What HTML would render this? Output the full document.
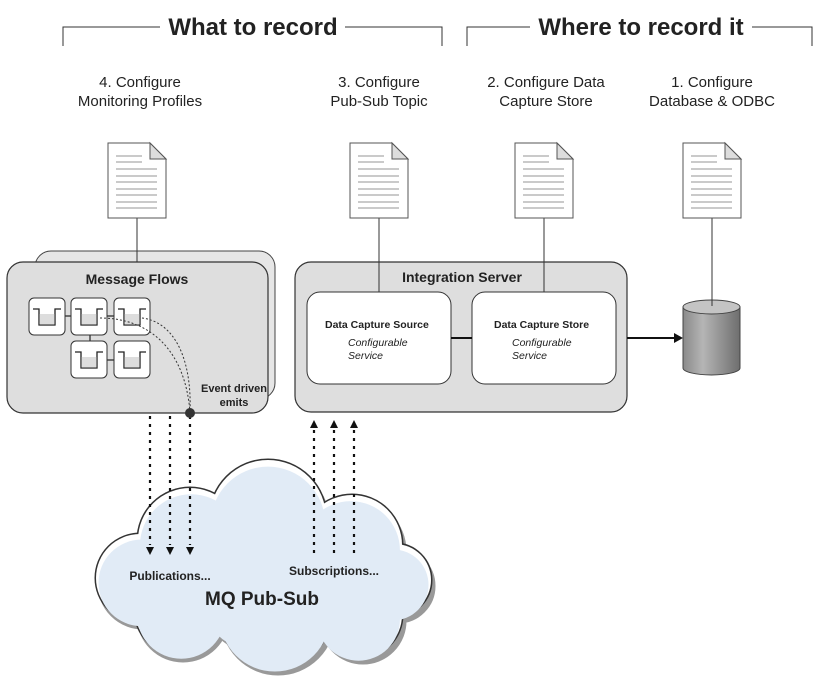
<!DOCTYPE html>
<html><head><meta charset="utf-8"><style>
html,body{margin:0;padding:0;background:#fff}
svg{display:block;font-family:"Liberation Sans",Arial,sans-serif}
</style></head><body>
<svg width="821" height="679" viewBox="0 0 821 679" xmlns="http://www.w3.org/2000/svg">
<defs>
<linearGradient id="cyl" x1="0" x2="1"><stop offset="0" stop-color="#8a8a8a"/><stop offset="0.35" stop-color="#b5b5b5"/><stop offset="1" stop-color="#6e6e6e"/></linearGradient>
<g id="doc">
<path d="M0,0 H42 L58,16 V75 H0 Z" fill="#fff" stroke="#555" stroke-width="1"/>
<path d="M42,0 V16 H58 Z" fill="#ddd" stroke="#555" stroke-width="1"/>
<g stroke="#aaa" stroke-width="1.2">
<line x1="8" y1="13" x2="34" y2="13"/><line x1="8" y1="19" x2="34" y2="19"/>
<line x1="8" y1="26" x2="49" y2="26"/><line x1="8" y1="33" x2="49" y2="33"/><line x1="8" y1="39" x2="49" y2="39"/><line x1="8" y1="46" x2="49" y2="46"/><line x1="8" y1="52" x2="49" y2="52"/><line x1="8" y1="59" x2="49" y2="59"/><line x1="8" y1="65" x2="49" y2="65"/>
</g></g>
<g id="mini">
<rect x="0" y="0" width="36" height="37" rx="5" fill="#fff" stroke="#333" stroke-width="1"/>
<path d="M4,11 H10 V27 H26 V11 H32" fill="none" stroke="#222" stroke-width="1.3"/>
<rect x="10.5" y="16" width="15" height="10.5" fill="#ddd"/>
</g>
<g id="cl">
<circle cx="190" cy="540" r="52"/><circle cx="268" cy="518" r="58"/><circle cx="352" cy="545" r="50"/>
<circle cx="395" cy="580" r="36"/><circle cx="360" cy="615" r="42"/><circle cx="275" cy="612" r="56"/>
<circle cx="180" cy="610" r="45"/><circle cx="140" cy="578" r="44"/><circle cx="265" cy="580" r="70"/>
</g>
</defs>

<g stroke="#333" stroke-width="1" fill="none">
<path d="M63,46 V27 H160"/><path d="M345,27 H442 V46"/>
<path d="M467,46 V27 H530"/><path d="M752,27 H812 V46"/>
</g>
<text x="253" y="35" font-size="24" font-weight="bold" text-anchor="middle" fill="#222">What to record</text>
<text x="641" y="35" font-size="24" font-weight="bold" text-anchor="middle" fill="#222">Where to record it</text>

<g font-size="15" fill="#222" text-anchor="middle">
<text x="140" y="87">4. Configure</text><text x="140" y="106">Monitoring Profiles</text>
<text x="379" y="87">3. Configure</text><text x="379" y="106">Pub-Sub Topic</text>
<text x="546" y="87">2. Configure Data</text><text x="546" y="106">Capture Store</text>
<text x="712" y="87">1. Configure</text><text x="712" y="106">Database &amp; ODBC</text>
</g>

<g stroke="#333" stroke-width="1">
<line x1="137" y1="218" x2="137" y2="262"/>
<line x1="379" y1="218" x2="379" y2="292"/>
<line x1="544" y1="218" x2="544" y2="292"/>
<line x1="712" y1="218" x2="712" y2="308"/>
</g>
<use href="#doc" x="108" y="143"/>
<use href="#doc" x="350" y="143"/>
<use href="#doc" x="515" y="143"/>
<use href="#doc" x="683" y="143"/>

<rect x="35" y="251" width="240" height="148" rx="16" fill="#e6e6e6" stroke="#444" stroke-width="1"/>
<rect x="7" y="262" width="261" height="151" rx="16" fill="#dedede" stroke="#333" stroke-width="1.2"/>
<line x1="137" y1="251" x2="137" y2="262" stroke="#333"/>
<text x="137" y="284" font-size="14" font-weight="bold" text-anchor="middle" fill="#222">Message Flows</text>
<g stroke="#222" stroke-width="1.2">
<line x1="65" y1="316" x2="71" y2="316"/><line x1="107" y1="316" x2="114" y2="316"/>
<line x1="90" y1="335" x2="90" y2="341"/><line x1="107" y1="360" x2="114" y2="360"/>
</g>
<use href="#mini" x="29" y="298"/><use href="#mini" x="71" y="298"/><use href="#mini" x="114" y="298"/>
<use href="#mini" x="71" y="341"/><use href="#mini" x="114" y="341"/>
<g fill="none" stroke="#333" stroke-width="1" stroke-dasharray="2,2">
<path d="M100,318 C150,318 185,350 190,412"/>
<path d="M142,318 C175,322 192,360 190,412"/>
</g>
<text x="234" y="392" font-size="11" font-weight="bold" text-anchor="middle" fill="#222">Event driven</text>
<text x="234" y="406" font-size="11" font-weight="bold" text-anchor="middle" fill="#222">emits</text>

<rect x="295" y="262" width="332" height="150" rx="16" fill="#dedede" stroke="#333" stroke-width="1.2"/>
<line x1="379" y1="262" x2="379" y2="292" stroke="#333"/>
<line x1="544" y1="262" x2="544" y2="292" stroke="#333"/>
<text x="462" y="282" font-size="14" font-weight="bold" text-anchor="middle" fill="#222">Integration Server</text>
<rect x="307" y="292" width="144" height="92" rx="13" fill="#fff" stroke="#333" stroke-width="1"/>
<rect x="472" y="292" width="144" height="92" rx="13" fill="#fff" stroke="#333" stroke-width="1"/>
<line x1="451" y1="338" x2="472" y2="338" stroke="#111" stroke-width="2"/>
<g font-size="10.5" fill="#222">
<text x="325" y="328" font-weight="bold">Data Capture Source</text>
<text x="348" y="346" font-style="italic">Configurable</text>
<text x="348" y="359" font-style="italic">Service</text>
<text x="494" y="328" font-weight="bold">Data Capture Store</text>
<text x="512" y="346" font-style="italic">Configurable</text>
<text x="512" y="359" font-style="italic">Service</text>
</g>
<line x1="627" y1="338" x2="674" y2="338" stroke="#111" stroke-width="2"/>
<path d="M674,333 L683,338 L674,343 Z" fill="#111"/>

<path d="M683,307 V368 A28.5,7 0 0 0 740,368 V307 Z" fill="url(#cyl)" stroke="#444" stroke-width="1"/>
<ellipse cx="711.5" cy="307" rx="28.5" ry="7" fill="#c4c4c4" stroke="#444" stroke-width="1"/>
<line x1="712" y1="300" x2="712" y2="306" stroke="#333"/>

<!-- Cloud -->
<use href="#cl" transform="translate(3,6)" fill="#999" stroke="#999" stroke-width="3"/>
<use href="#cl" fill="#333" stroke="#333" stroke-width="3"/>
<use href="#cl" fill="#fff"/>
<use href="#cl" fill="#e1ebf6" transform="translate(265,575) scale(0.985) translate(-265,-570)"/>

<g stroke="#111" stroke-width="2.2" stroke-dasharray="3,5" fill="none">
<line x1="150" y1="416" x2="150" y2="545"/>
<line x1="170" y1="416" x2="170" y2="545"/>
<line x1="190" y1="416" x2="190" y2="545"/>
<line x1="314" y1="430" x2="314" y2="556"/>
<line x1="334" y1="430" x2="334" y2="556"/>
<line x1="354" y1="430" x2="354" y2="556"/>
</g>
<g fill="#111">
<path d="M146,547 L154,547 L150,555 Z"/><path d="M166,547 L174,547 L170,555 Z"/><path d="M186,547 L194,547 L190,555 Z"/>
<path d="M310,428 L318,428 L314,420 Z"/><path d="M330,428 L338,428 L334,420 Z"/><path d="M350,428 L358,428 L354,420 Z"/>
</g>
<circle cx="190" cy="413" r="5" fill="#333"/>

<text x="170" y="580" font-size="12" font-weight="bold" text-anchor="middle" fill="#222">Publications...</text>
<text x="334" y="575" font-size="12" font-weight="bold" text-anchor="middle" fill="#222">Subscriptions...</text>
<text x="262" y="605" font-size="19" font-weight="bold" text-anchor="middle" fill="#222">MQ Pub-Sub</text>
</svg>
</body></html>
